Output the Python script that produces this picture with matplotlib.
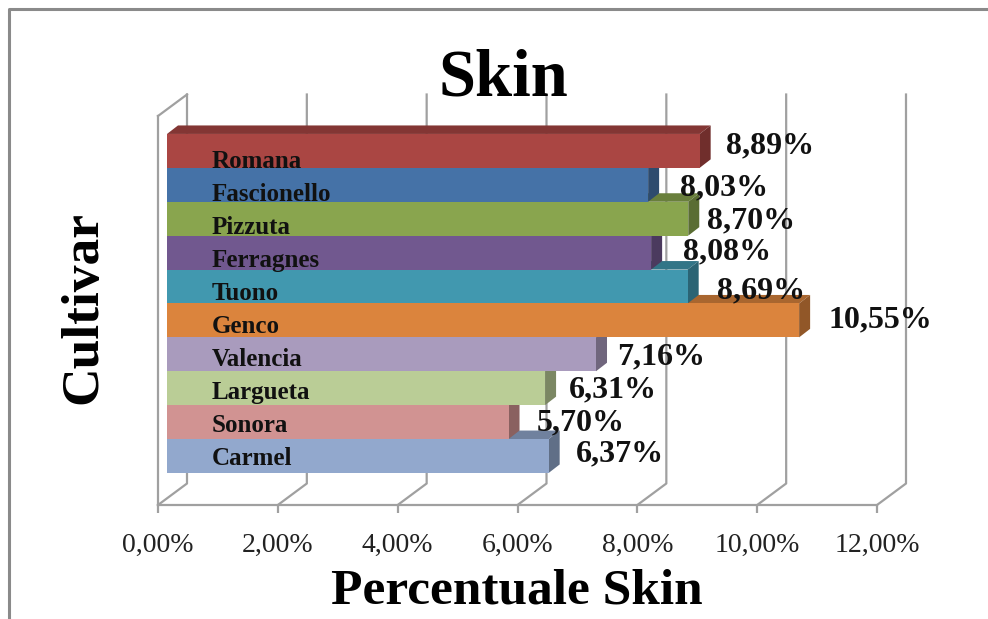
import matplotlib
matplotlib.use("Agg")
import matplotlib.pyplot as plt
from matplotlib.colors import to_rgb
from matplotlib.patches import Polygon

cultivars = ["Carmel", "Sonora", "Largueta", "Valencia", "Genco",
             "Tuono", "Ferragnes", "Pizzuta", "Fascionello", "Romana"]
values = [6.37, 5.70, 6.31, 7.16, 10.55, 8.69, 8.08, 8.70, 8.03, 8.89]
colors = ["#92A8CD", "#D19392", "#BACD96", "#A99BBD", "#DB843D",
          "#4198AF", "#71588F", "#89A54E", "#4572A7", "#AA4643"]
xticks = [0, 2, 4, 6, 8, 10, 12]

# hand placed data labels, offset in px from the bar end (dy is upwards)
label_dx = [27, 28, 24, 21, 29, 29, 32, 19, 32, 26]
label_dy = [2, -1, -2, -3, 0, -4, 1, -2, -3, 5]

W, H = 988, 619
SERIF = "Liberation Serif"
GRID = "#A0A0A0"
LW = 1.6

# floor and wall layout in px
X0, X12 = 158, 877
Y_FLOOR, Y_WALL = 505, 116
BAR_PX = 33.9
CARMEL_Y = 456
PX_X = (X12 - X0) / 12
wall_dx, wall_dy = 29 / PX_X, 21.5 / BAR_PX
bar_dx, bar_dy = 11 / PX_X, 8.5 / BAR_PX
bar_left = 9 / PX_X


def shade(color, k):
    return tuple(c * k for c in to_rgb(color))


fig = plt.figure(figsize=(W / 100, H / 100), dpi=100)
fig.patch.set_facecolor("white")
ax = fig.add_axes([X0 / W, 1 - Y_FLOOR / H, (X12 - X0) / W, (Y_FLOOR - Y_WALL) / H])
ax.set_facecolor("none")
ax.set_xlim(0, 12)
ax.set_ylim((CARMEL_Y - Y_FLOOR) / BAR_PX, (CARMEL_Y - Y_WALL) / BAR_PX)
y_lo, y_hi = ax.get_ylim()

# walls
for x in xticks:
    ax.plot([x, x + wall_dx, x + wall_dx], [y_lo, y_lo + wall_dy, y_hi + wall_dy],
            color=GRID, lw=LW, clip_on=False, zorder=0.5)
ax.plot([0, wall_dx], [y_hi, y_hi + wall_dy], color=GRID, lw=LW, clip_on=False, zorder=0.5)

# 3d faces first, then the fronts over them
for i, (v, c) in enumerate(zip(values, colors)):
    right = bar_left + v
    ax.add_patch(Polygon([(bar_left, i + 0.5), (right, i + 0.5),
                          (right + bar_dx, i + 0.5 + bar_dy), (bar_left + bar_dx, i + 0.5 + bar_dy)],
                         facecolor=shade(c, 0.77), zorder=1))
    ax.add_patch(Polygon([(right, i - 0.5), (right + bar_dx, i - 0.5 + bar_dy),
                          (right + bar_dx, i + 0.5 + bar_dy), (right, i + 0.5)],
                         facecolor=shade(c, 0.66), zorder=1))
ax.barh(range(len(values)), values, left=bar_left, height=1.0, color=colors, zorder=1.5)

for i, v in enumerate(values):
    ax.annotate(f"{v:.2f}%".replace(".", ","), (bar_left + v, i),
                xytext=(label_dx[i] * 0.72, label_dy[i] * 0.72), textcoords="offset points",
                ha="left", va="center", fontsize=23, fontweight="bold",
                family=SERIF, color="#111111", zorder=3)

for s in ("top", "right"):
    ax.spines[s].set_visible(False)
for s in ("left", "bottom"):
    ax.spines[s].set_color(GRID)
    ax.spines[s].set_linewidth(LW)

ax.set_xticks(xticks, [f"{x:.2f}%".replace(".", ",") for x in xticks],
              family=SERIF, fontsize=20, color="#222222")
ax.tick_params(axis="x", length=6, width=LW, color=GRID, pad=14)
ax.set_yticks([i * 33 / BAR_PX for i in range(len(cultivars))], cultivars,
              family=SERIF, fontsize=18, fontweight="bold", color="#111111")
ax.tick_params(axis="y", length=0, pad=-54 * 0.72)
for t in ax.get_yticklabels():
    t.set_ha("left")
ax.set_axisbelow(False)

fig.text(503 / W, 1 - 79 / H, "Skin", ha="center", va="center",
         family=SERIF, fontsize=48, fontweight="bold", color="black")
fig.text(517 / W, 1 - 591 / H, "Percentuale Skin", ha="center", va="center",
         family=SERIF, fontsize=37, fontweight="bold", color="black")
fig.text(83 / W, 1 - 308 / H, "Cultivar", ha="center", va="center", rotation=90,
         family=SERIF, fontsize=38.5, fontweight="bold", color="black")

# outer chart frame
fig.add_artist(plt.Line2D([9 / W, 9 / W, 1], [0, 1 - 9 / H, 1 - 9 / H],
                          color="#8A8A8A", lw=2.2))

fig.savefig("out.png", dpi=100)
